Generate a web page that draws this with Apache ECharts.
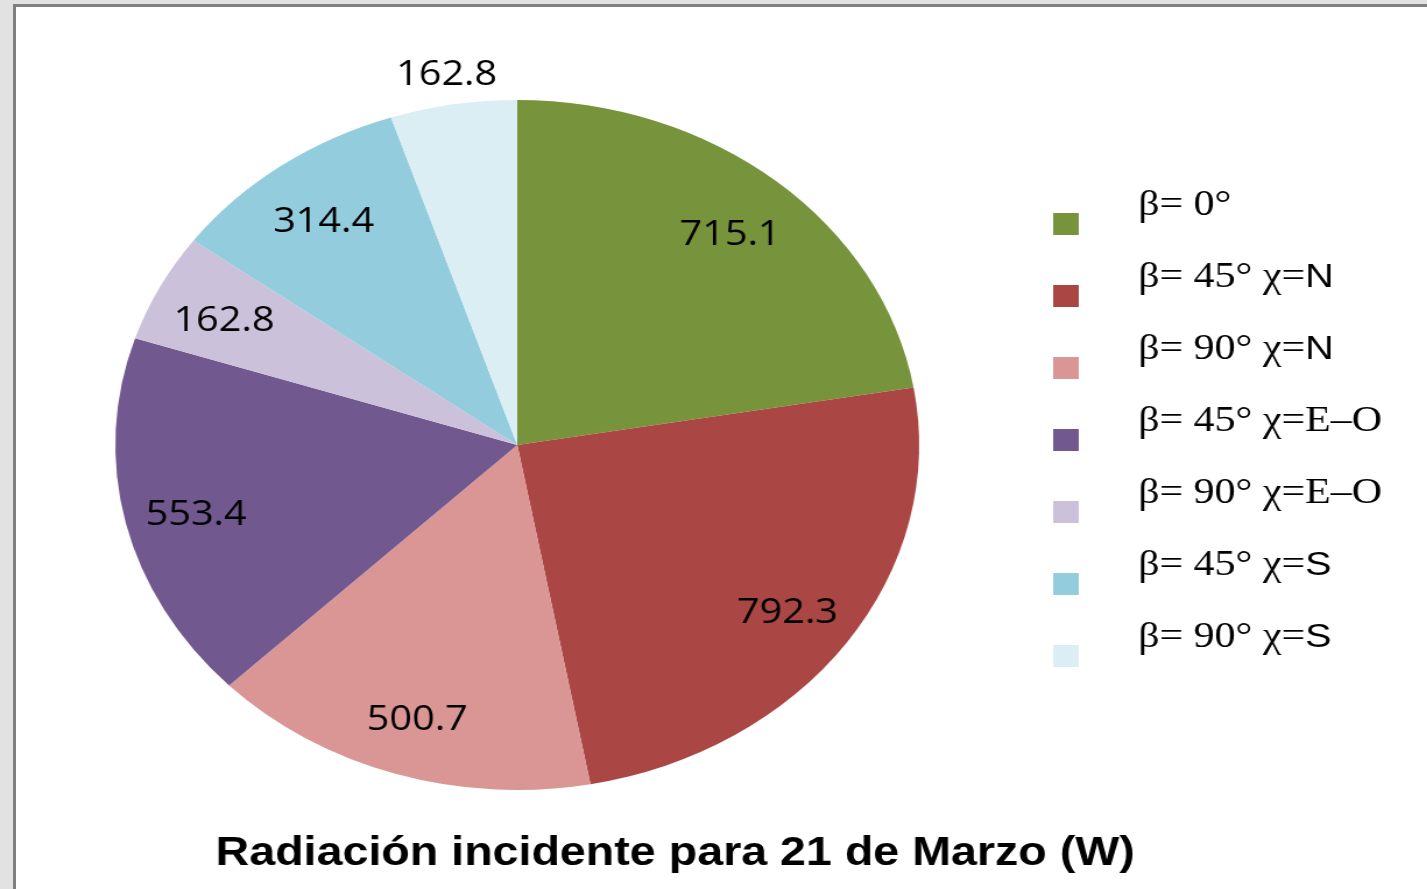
<!DOCTYPE html>
<html lang="es">
<head>
<meta charset="utf-8">
<title>Radiación incidente para 21 de Marzo (W)</title>
<style>
html, body { margin: 0; height: 100%; background: #e2e2e2; overflow: hidden; }
#frame { position: absolute; left: 13px; top: 4px; right: 0; bottom: 0; background: #fff;
         border-left: 3px solid #808080; border-top: 3px solid #808080; }
/* the original chart is stretched horizontally, so the canvas is too */
#container { position: absolute; left: 0; top: 0; width: 1225px; height: 889px;
             transform: scaleX(1.165); transform-origin: 0 0; }
</style>
</head>
<body>
<div id="frame"></div>
<div id="container"></div>
<script src="https://cdn.jsdelivr.net/npm/echarts@6/dist/echarts.min.js"></script>
<script>
var names = ['β= 0°', 'β= 45° χ=N', 'β= 90° χ=N', 'β= 45° χ=E–O', 'β= 90° χ=E–O', 'β= 45° χ=S', 'β= 90° χ=S'];
var values = [715.1, 792.3, 500.7, 553.4, 162.8, 314.4, 162.8];
var colors = ['#77933C', '#AA4643', '#D99694', '#71588F', '#CCC1DA', '#93CDDD', '#DBEEF4'];
var outsideLabel = [false, false, false, false, false, false, true];

var myChart = echarts.init(document.getElementById('container'));

var center = [444, 445];
var labelStyle = {
    show: true,
    position: 'inside',
    formatter: '{v|{c}}',
    rich: {
        v: { fontFamily: 'Open Sans', fontSize: 34, lineHeight: 40, color: '#000', padding: [12, 0, 0, 0] }
    }
};

// helper rings only carry the value labels at the right distance from the centre
function labelData(outside) {
    return names.map(function (n, i) {
        return { name: n, value: values[i], label: { show: outsideLabel[i] === outside } };
    });
}

var option = {
    animation: false,
    title: {
        text: 'Radiación incidente para 21 de Marzo (W)',
        left: 180,
        top: 829,
        textStyle: { fontFamily: 'Liberation Sans', fontWeight: 'bold', fontSize: 40, color: '#000' }
    },
    legend: {
        orient: 'vertical',
        left: 899,
        top: 183,
        icon: 'rect',
        itemWidth: 22,
        itemHeight: 22,
        itemGap: 0,
        selectedMode: false,
        data: names,
        formatter: function (name) {
            var last = name.slice(-1);
            if (last === 'N' || last === 'S') {
                return '{t|' + name.slice(0, -1) + '}{a|' + last + '}';
            }
            return '{t|' + name + '}';
        },
        textStyle: {
            rich: {
                t: { fontFamily: 'Liberation Serif', fontSize: 36, lineHeight: 40, color: '#000', padding: [0, 0, 36, 46] },
                a: { fontFamily: 'Liberation Sans', fontSize: 34, lineHeight: 40, color: '#000', padding: [0, 0, 36, 0] }
            }
        }
    },
    series: [
        {
            type: 'pie',
            radius: [0, 345],
            center: center,
            startAngle: 90,
            silent: true,
            label: { show: false },
            labelLine: { show: false },
            data: names.map(function (n, i) {
                return { name: n, value: values[i], itemStyle: { color: colors[i] } };
            })
        },
        {
            type: 'pie',
            radius: [215, 345],
            center: center,
            startAngle: 90,
            silent: true,
            itemStyle: { color: 'rgba(0,0,0,0)' },
            label: labelStyle,
            labelLine: { show: false },
            data: labelData(false)
        },
        {
            type: 'pie',
            radius: [345, 411],
            center: center,
            startAngle: 90,
            silent: true,
            itemStyle: { color: 'rgba(0,0,0,0)' },
            label: labelStyle,
            labelLine: { show: false },
            data: labelData(true)
        }
    ]
};

myChart.setOption(option);
window.addEventListener('resize', myChart.resize);
</script>
</body>
</html>
